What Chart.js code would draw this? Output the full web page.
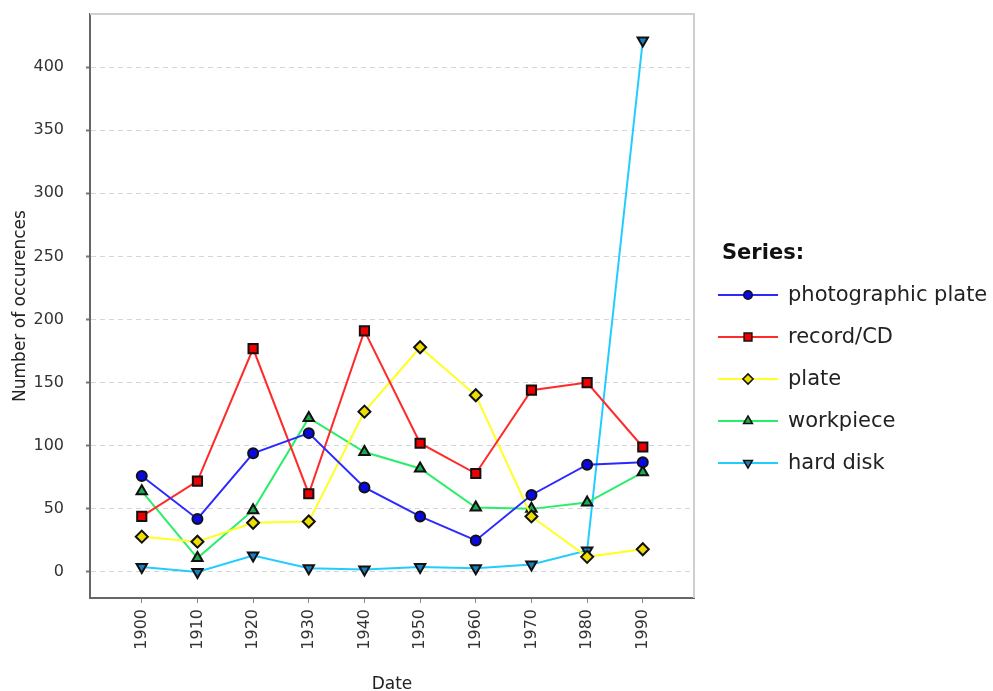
<!DOCTYPE html>
<html>
<head>
<meta charset="utf-8">
<title>Number of occurences</title>
<script src="https://cdn.jsdelivr.net/npm/chart.js@4.4.1/dist/chart.umd.min.js"></script>
<style>
  body { margin: 0; background: #fff; }
  #wrap { width: 993px; height: 691px; position: relative; }
</style>
</head>
<body>
<div id="wrap"><canvas id="occChart"></canvas></div>
<script>
// values
const years = ['1900', '1910', '1920', '1930', '1940', '1950', '1960', '1970', '1980', '1990'];
const photographicPlate = [76, 42, 94, 110, 67, 44, 25, 61, 85, 87];
const recordCD = [44, 72, 177, 62, 191, 102, 78, 144, 150, 99];
const plate = [28, 24, 39, 40, 127, 178, 140, 44, 12, 18];
const workpiece = [64, 11, 49, 122, 95, 82, 51, 50, 55, 79];
const hardDisk = [4, 0, 13, 3, 2, 4, 3, 6, 17, 421];
const yTicks = [0, 50, 100, 150, 200, 250, 300, 350, 400];

const series = [
    { label: 'photographic plate', data: photographicPlate, color: '#2a2aff', fill: '#0a0ae0', style: 'circle', radius: 5, rotation: 0 },
    { label: 'record/CD', data: recordCD, color: '#ff2a2a', fill: '#ee0000', style: 'rect', radius: 6.5, rotation: 0 },
    { label: 'plate', data: plate, color: '#ffff22', fill: '#eedd00', style: 'rectRot', radius: 6, rotation: 0 },
    { label: 'workpiece', data: workpiece, color: '#2aee6a', fill: '#1aaa50', style: 'triangle', radius: 6, rotation: 0 },
    { label: 'hard disk', data: hardDisk, color: '#22ccff', fill: '#1a80c0', style: 'triangle', radius: 6, rotation: 180 }
];

Chart.defaults.font.family = "'DejaVu Sans', sans-serif";
Chart.defaults.color = '#333';

// light gray top and right edges of the plot frame
const frameEdges = {
    id: 'frameEdges',
    afterDatasetsDraw(chart) {
        const { ctx, chartArea: a } = chart;
        ctx.save();
        ctx.strokeStyle = '#cfcfcf';
        ctx.lineWidth = 2;
        ctx.beginPath();
        ctx.moveTo(a.left, a.top);
        ctx.lineTo(a.right, a.top);
        ctx.lineTo(a.right, a.bottom);
        ctx.stroke();
        ctx.restore();
    }
};

// legend on the right: title + line with marker for each series
const seriesLegend = {
    id: 'seriesLegend',
    afterDraw(chart) {
        const ctx = chart.ctx;
        ctx.save();
        ctx.textBaseline = 'middle';
        ctx.textAlign = 'left';
        ctx.fillStyle = '#111';
        ctx.font = "bold 21px 'DejaVu Sans'";
        ctx.fillText('Series:', 722, 254);
        ctx.font = "21px 'DejaVu Sans'";
        series.forEach((s, i) => {
            const y = 295 + i * 42;
            ctx.strokeStyle = s.color;
            ctx.lineWidth = 2;
            ctx.beginPath();
            ctx.moveTo(718, y);
            ctx.lineTo(778, y);
            ctx.stroke();
            ctx.fillStyle = s.fill;
            ctx.strokeStyle = '#111';
            ctx.lineWidth = 1.5;
            Chart.helpers.drawPoint(ctx, { pointStyle: s.style, radius: s.radius * 0.85, rotation: s.rotation, borderWidth: 1.5 }, 748, y);
            ctx.fillStyle = '#222';
            ctx.fillText(s.label, 788, y + 1);
        });
        ctx.restore();
    }
};

const ctx = document.getElementById('occChart').getContext('2d');
const occChart = new Chart(ctx, {
    type: 'line',
    data: {
        datasets: series.map(s => ({
            label: s.label,
            data: s.data.map((v, i) => ({ x: i, y: v })),
            borderColor: s.color,
            borderWidth: 2,
            pointStyle: s.style,
            pointRadius: s.radius,
            pointRotation: s.rotation,
            pointBackgroundColor: s.fill,
            pointBorderColor: '#111',
            pointBorderWidth: 2,
            tension: 0,
            fill: false
        }))
    },
    options: {
        responsive: true,
        maintainAspectRatio: false,
        animation: false,
        layout: { padding: { left: 0, top: 14, right: 299, bottom: 0 } },
        plugins: {
            legend: { display: false },
            tooltip: { enabled: false }
        },
        scales: {
            x: {
                type: 'linear',
                min: -0.93,
                max: 9.92,
                afterBuildTicks: scale => { scale.ticks = years.map((_, i) => ({ value: i })); },
                afterFit: scale => {
                    scale.height = 93;
                    scale.paddingLeft = 0;
                    scale.paddingRight = 0;
                },
                ticks: {
                    callback: v => years[v],
                    minRotation: 90,
                    maxRotation: 90,
                    padding: 6,
                    font: { size: 16 },
                    color: '#333'
                },
                grid: {
                    drawOnChartArea: false,
                    drawTicks: true,
                    tickLength: 5,
                    tickColor: '#888',
                    tickWidth: 1
                },
                border: { color: '#666', width: 2 },
                title: {
                    display: true,
                    text: 'Date',
                    font: { size: 17 },
                    color: '#222',
                    padding: { top: 0, bottom: -4 }
                }
            },
            y: {
                min: -20.6,
                max: 442,
                afterBuildTicks: scale => { scale.ticks = yTicks.map(v => ({ value: v })); },
                afterFit: scale => {
                    scale.width = 90;
                    scale.paddingTop = 0;
                    scale.paddingBottom = 0;
                },
                ticks: {
                    padding: 22,
                    font: { size: 16 },
                    color: '#333'
                },
                grid: {
                    color: '#d6d6d6',
                    lineWidth: 1,
                    tickLength: 4,
                    tickColor: '#777',
                    tickWidth: 2,
                    tickBorderDash: [1, 0]
                },
                border: { color: '#666', width: 2, dash: [5, 4] },
                title: {
                    display: true,
                    text: 'Number of occurences',
                    font: { size: 17 },
                    color: '#222',
                    padding: { top: 10, bottom: 0 }
                }
            }
        }
    },
    plugins: [frameEdges, seriesLegend]
});
</script>
</body>
</html>
